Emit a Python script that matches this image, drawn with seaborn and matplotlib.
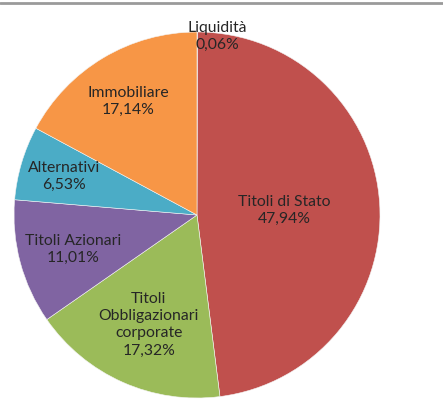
import numpy as np
import matplotlib
matplotlib.use("Agg")
import matplotlib.pyplot as plt
import seaborn as sns

# Portfolio composition (clockwise from the top)
categories = ["Liquidità", "Titoli di Stato", "Titoli\nObbligazionari\ncorporate",
              "Titoli Azionari", "Alternativi", "Immobiliare"]
shares = [0.06, 47.94, 17.32, 11.01, 6.53, 17.14]

sns.set_theme(style="white")
plt.rcParams["font.family"] = ["Lato", "DejaVu Sans"]

palette = sns.color_palette(["#4F81BD", "#C0504D", "#9BBB59", "#8064A2", "#4BACC6", "#F79646"])

fig = plt.figure(figsize=(4.43, 4.14), dpi=100)
ax = fig.add_axes([0, 0, 1, 1])

wedges, _ = ax.pie(shares, colors=palette, startangle=90, counterclock=False,
                   wedgeprops=dict(linewidth=0.4, edgecolor="#f4f4f4"))

# label distance from centre, as a fraction of the radius
label_r = [1.0, 0.48, 0.65, 0.70, 0.76, 0.73]

for w, name, val, r in zip(wedges, categories, shares, label_r):
    mid = np.deg2rad((w.theta1 + w.theta2) / 2)
    x, y = r * np.cos(mid), r * np.sin(mid)
    if name == "Liquidità":
        x, y = 0.11, 0.98
    txt = f"{name}\n{val:.2f}%".replace(".", ",")
    ax.text(x, y, txt, ha="center", va="center", fontsize=11.3,
            color="#262626", linespacing=1.3)

# map the pie onto the figure pixels
ax.set_xlim(-197 / 183, (443 - 197) / 183)
ax.set_ylim((216 - 414) / 183, 216 / 183)
ax.set_aspect("auto")
ax.axis("off")

# rule under the (cropped) title
fig.add_artist(plt.Line2D([0, 1], [0.99, 0.99], color="#9a9a9a", linewidth=2,
                          transform=fig.transFigure))

plt.savefig("out.png", dpi=100)
